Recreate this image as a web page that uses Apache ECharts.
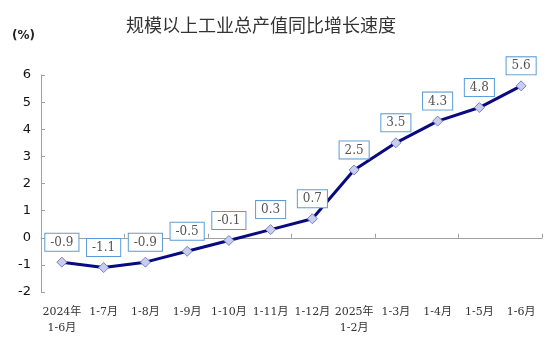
<!DOCTYPE html>
<html><head><meta charset="utf-8">
<script src="https://cdn.jsdelivr.net/npm/echarts@6/dist/echarts.min.js"></script>
<style>html,body{margin:0;padding:0;background:#fff}#c{width:560px;height:355px}</style>
</head><body><div id="c"></div>
<script>
const categories = ['2024年\n1-6月','1-7月','1-8月','1-9月','1-10月','1-11月','1-12月','2025年\n1-2月','1-3月','1-4月','1-5月','1-6月'];
const values = [-0.9,-1.1,-0.9,-0.5,-0.1,0.3,0.7,2.5,3.5,4.3,4.8,5.6];
const yTicks = {min:-2, max:6, interval:1};
const title = '规模以上工业总产值同比增长速度';
const unit = '(%)';

const chart = echarts.init(document.getElementById('c'), null, {renderer:'canvas'});
chart.setOption({
  animation:false,
  title:{text:title,left:256,top:11,textAlign:'center',textStyle:{fontFamily:'Noto Sans CJK SC',fontSize:18,fontWeight:'normal',color:'#333'}},
  graphic:[{type:'text',left:12,top:30,style:{text:unit,font:'bold 12px "DejaVu Sans"',fill:'#222'}}],
  grid:{left:41,right:18,top:75,bottom:63},
  xAxis:[
    {type:'category',data:categories,boundaryGap:true,position:'bottom',
     axisLine:{show:false,onZero:false},axisTick:{show:false},
     axisLabel:{interval:0,margin:12,fontFamily:'DejaVu Serif, Noto Sans CJK SC',fontSize:11,color:'#333',lineHeight:16}},
    {type:'category',data:categories,boundaryGap:true,position:'bottom',
     axisLine:{show:true,onZero:true,lineStyle:{color:'#a0a0a0',width:1}},
     axisTick:{show:true,inside:true,length:4,lineStyle:{color:'#a0a0a0'}},
     axisLabel:{show:false}}
  ],
  yAxis:{type:'value',min:yTicks.min,max:yTicks.max,interval:yTicks.interval,
    axisLine:{show:true,lineStyle:{color:'#a0a0a0'}},
    axisTick:{show:true,inside:true,length:4,lineStyle:{color:'#a0a0a0'}},
    splitLine:{show:false},
    axisLabel:{margin:10,fontFamily:'DejaVu Sans',fontSize:13,color:'#111'}},
  series:[{type:'line',xAxisIndex:0,data:values,
    lineStyle:{color:'#0a0a80',width:3},
    symbol:'diamond',symbolSize:10,
    itemStyle:{color:'#c9cdee',borderColor:'#7a80c0',borderWidth:1},
    label:{show:true,position:'top',distance:6,
      formatter:p=>p.value.toFixed(1),
      fontFamily:'DejaVu Serif',fontSize:12,color:'#555',
      backgroundColor:'#fff',borderColor:'#5b9bd5',borderWidth:1,padding:[3,5,2,5]}
  }]
});
</script></body></html>
